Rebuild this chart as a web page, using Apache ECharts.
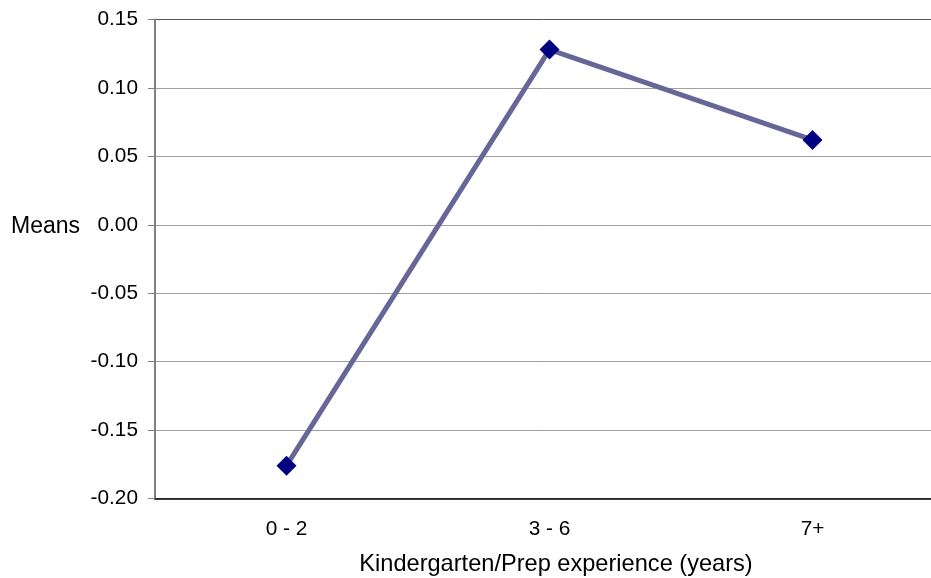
<!DOCTYPE html>
<html>
<head>
<meta charset="utf-8">
<script src="https://cdn.jsdelivr.net/npm/echarts@6/dist/echarts.min.js"></script>
<style>html,body{margin:0;padding:0;background:#fff;}#c{width:931px;height:578px;}</style>
</head>
<body>
<div id="c"></div>
<script>
const categories = ['0 - 2', '3 - 6', '7+'];
const means = [-0.176, 0.128, 0.062];
const yMin = -0.20, yMax = 0.15, yStep = 0.05;
const yTitle = 'Means';
const xTitle = 'Kindergarten/Prep experience (years)';

const chart = echarts.init(document.getElementById('c'), null, {renderer: 'canvas'});
const font = 'Liberation Sans, Arial, sans-serif';
chart.setOption({
  animation: false,
  backgroundColor: '#ffffff',
  grid: {left: 155, top: 19.5, right: -13, bottom: 79.5, containLabel: false, outerBoundsMode: 'none'},
  xAxis: {
    type: 'category',
    data: categories,
    boundaryGap: true,
    axisLine: {onZero: false, lineStyle: {color: '#000000', width: 1.5}},
    axisTick: {show: false},
    axisLabel: {color: '#000', fontSize: 20.8, fontFamily: font, margin: 20},
    name: xTitle,
    nameLocation: 'middle',
    nameGap: 54,
    nameTextStyle: {color: '#000', fontSize: 23.6, fontFamily: font, padding: [0, 0, 0, 13]}
  },
  yAxis: {
    type: 'value',
    min: yMin, max: yMax, interval: yStep,
    axisLine: {show: true, lineStyle: {color: '#808080', width: 2}},
    axisTick: {show: true, length: 7, lineStyle: {color: '#808080'}},
    axisLabel: {color: '#000', fontSize: 20.8, fontFamily: font, margin: 17,
      formatter: v => v.toFixed(2)},
    splitLine: {show: true, lineStyle: {width: 1,
      color: ['#a0a0a0','#a0a0a0','#a0a0a0','#a0a0a0','#a0a0a0','#a0a0a0','#a0a0a0','#555555']}}
  },
  graphic: [{
    type: 'text', left: 11, top: 215,
    style: {text: yTitle, fill: '#000', fontSize: 23, fontFamily: font}
  }],
  series: [{
    type: 'line',
    data: means,
    symbol: 'diamond',
    symbolSize: 20,
    itemStyle: {color: '#000080'},
    lineStyle: {color: '#666699', width: 5}
  }]
});
</script>
</body>
</html>
